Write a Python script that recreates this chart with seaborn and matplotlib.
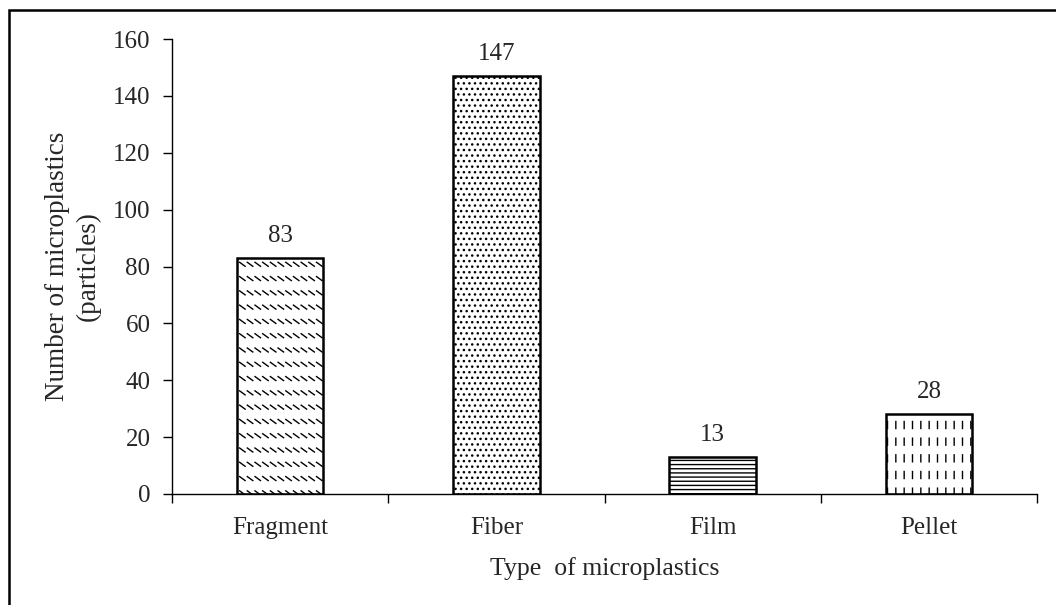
import warnings
import numpy as np
import pandas as pd
import matplotlib
matplotlib.use("Agg")
import matplotlib.pyplot as plt
from matplotlib import hatch as mhatch
from matplotlib.patches import Rectangle
from matplotlib.ticker import FixedLocator
import seaborn as sns

warnings.filterwarnings("ignore")

# Data
types = ["Fragment", "Fiber", "Film", "Pellet"]
counts = [83, 147, 13, 28]
y_ticks = [0, 20, 40, 60, 80, 100, 120, 140, 160]
hatches = ["w", "...", "----", "i"]


class SlantDashRows(mhatch.HatchPatternBase):
    """Rows of short back-slanted dashes, selected by 'w' in a hatch string."""

    def __init__(self, hatch, density):
        n = hatch.count("w")
        self.num_rows = n * density * 7 // 6
        self.num_cols = n * 13
        self.num_vertices = self.num_rows * self.num_cols * 2

    def set_vertices_and_codes(self, vertices, codes):
        r, c = np.meshgrid(np.arange(self.num_rows), np.arange(self.num_cols),
                           indexing="ij")
        x = (c.ravel() + 0.15) / self.num_cols
        y = (r.ravel() + 0.5) / self.num_rows
        vertices[0::2, 0] = x
        vertices[0::2, 1] = y + 0.02
        vertices[1::2, 0] = x + 0.055
        vertices[1::2, 1] = y - 0.02
        codes[0::2] = matplotlib.path.Path.MOVETO
        codes[1::2] = matplotlib.path.Path.LINETO


class VerticalDashes(mhatch.HatchPatternBase):
    """Grid of short vertical dashes, selected by 'i' in a hatch string."""

    def __init__(self, hatch, density):
        n = hatch.count("i")
        self.num_rows = n * density
        self.num_cols = n * 12
        self.num_vertices = self.num_rows * self.num_cols * 2

    def set_vertices_and_codes(self, vertices, codes):
        r, c = np.meshgrid(np.arange(self.num_rows), np.arange(self.num_cols),
                           indexing="ij")
        x = (c.ravel() + 0.5) / self.num_cols
        y = (r.ravel() + 0.5) / self.num_rows
        vertices[0::2, 0] = x
        vertices[0::2, 1] = y + 0.035
        vertices[1::2, 0] = x
        vertices[1::2, 1] = y - 0.035
        codes[0::2] = matplotlib.path.Path.MOVETO
        codes[1::2] = matplotlib.path.Path.LINETO


mhatch._hatch_types.extend([SlantDashRows, VerticalDashes])

sns.set_style("white")
plt.rcParams["font.family"] = ["Liberation Serif", "DejaVu Serif"]
plt.rcParams["hatch.linewidth"] = 1.0
plt.rcParams["hatch.color"] = "black"

df = pd.DataFrame({"type": types, "count": counts})

fig = plt.figure(figsize=(10.56, 6.05), dpi=100)
ax = fig.add_axes([172 / 1056, 1 - 494 / 605, (1037 - 172) / 1056, (494 - 39) / 605])

sns.barplot(data=df, x="type", y="count", color="white", edgecolor="black",
            linewidth=1.8, width=0.4, saturation=1, ax=ax)

for patch, h in zip(ax.patches, hatches):
    patch.set_hatch(h)
    patch.set_facecolor("white")

for i, v in enumerate(counts):
    ax.annotate(str(v), (i, v), xytext=(0, 8), textcoords="offset points",
                ha="center", va="bottom", fontsize=18)

ax.set_xlim(-0.5, 3.5)
ax.set_ylim(0, 160)
ax.set_yticks(y_ticks)
ax.xaxis.set_minor_locator(FixedLocator([-0.5, 0.5, 1.5, 2.5, 3.5]))
ax.tick_params(axis="x", which="major", length=0, pad=16.5, labelsize=18)
ax.tick_params(axis="x", which="minor", length=6.5, width=1, color="black",
               direction="out", bottom=True)
ax.tick_params(axis="y", length=6.5, width=1, color="black", direction="out",
               left=True, pad=9, labelsize=18)

for side in ["top", "right"]:
    ax.spines[side].set_visible(False)
for side in ["left", "bottom"]:
    ax.spines[side].set_color("black")
    ax.spines[side].set_linewidth(1.0)

ax.set_xlabel("Type  of microplastics", fontsize=18.5, labelpad=13)
ax.set_ylabel("Number of microplastics\n(particles)", fontsize=19.5,
              labelpad=9, linespacing=1.3)

# Frame around the figure
fig.patches.append(Rectangle((8.5 / 1056, -0.05), 1.2, 1 - 10 / 605 + 0.05,
                             transform=fig.transFigure, fill=False,
                             linewidth=1.8, edgecolor="black", clip_on=False))

fig.savefig("out.png", dpi=100)
